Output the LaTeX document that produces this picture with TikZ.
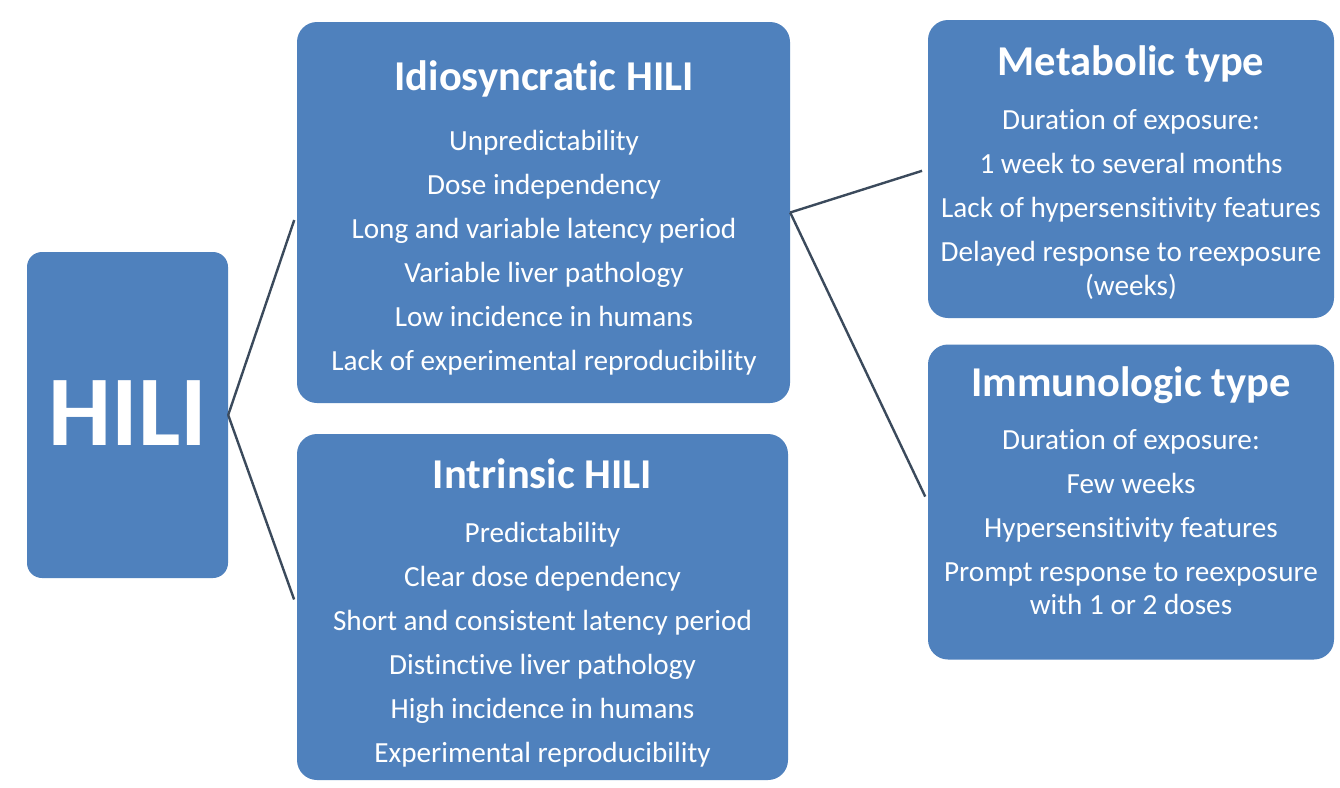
\documentclass[tikz,border=0pt]{standalone}
\usepackage{fontspec}
\setmainfont{Carlito}[Ligatures=NoCommon]
\definecolor{boxblue}{HTML}{4F81BD}
\definecolor{linecol}{HTML}{3B4A5C}
\begin{document}
\begin{tikzpicture}[x=1pt,y=-1pt,
  box/.style={fill=boxblue, rounded corners=20pt, inner sep=0pt, draw=none},
  txt/.style={text=white, align=center, inner sep=0pt, anchor=north,
              font=\fontsize{29.2}{44}\selectfont},
  conn/.style={draw=linecol, line width=2.4pt}]
\useasboundingbox[fill=white] (0,0) rectangle (1340,787);

% boxes
\node[box, rounded corners=15pt, minimum width=201pt, minimum height=326pt] (hili) at (127.5,415) {};
\node[box, minimum width=493pt, minimum height=381pt] (idio) at (543.5,212.5) {};
\node[box, minimum width=491pt, minimum height=346pt] (intr) at (542.5,607) {};
\node[box, minimum width=406pt, minimum height=298pt] (meta) at (1131,169) {};
\node[box, minimum width=406pt, minimum height=315pt] (immu) at (1131,502) {};

% connectors
\draw[conn, shorten >=8pt] (hili.east) -- (idio.west);
\draw[conn, shorten >=8pt] (hili.east) -- (intr.west);
\draw[conn, shorten >=6pt] (idio.east) -- (meta.west);
\draw[conn, shorten >=6pt] (idio.east) -- (immu.west);

% texts
\node[text=white, inner sep=0pt, font=\bfseries\fontsize{100}{100}\selectfont] (hilit) at (128,413) {HILI};

\node[txt] (idiot) at (544,60) {{\bfseries\fontsize{42.5}{44}\selectfont Idiosyncratic HILI}\\[16pt]
Unpredictability\\
Dose independency\\
Long and variable latency period\\
Variable liver pathology\\
Low incidence in humans\\
Lack of experimental reproducibility};

\node[txt] (intrt) at (542.5,458) {{\bfseries\fontsize{42.5}{44}\selectfont Intrinsic HILI}\\[10pt]
Predictability\\
Clear dose dependency\\
Short and consistent latency period\\
Distinctive liver pathology\\
High incidence in humans\\
Experimental reproducibility};

\node[txt] (metat) at (1131,45) {{\bfseries\fontsize{42.5}{44}\selectfont Metabolic type}\\[10pt]
Duration of exposure:\\
1 week to several months\\
Lack of hypersensitivity features\\
Delayed response to reexposure\\[-10pt]
(weeks)};

\node[txt] (immut) at (1131,366) {{\bfseries\fontsize{42.5}{44}\selectfont Immunologic type}\\[9pt]
Duration of exposure:\\
Few weeks\\
Hypersensitivity features\\
Prompt response to reexposure\\[-11pt]
with 1 or 2 doses};
\end{tikzpicture}
\end{document}
